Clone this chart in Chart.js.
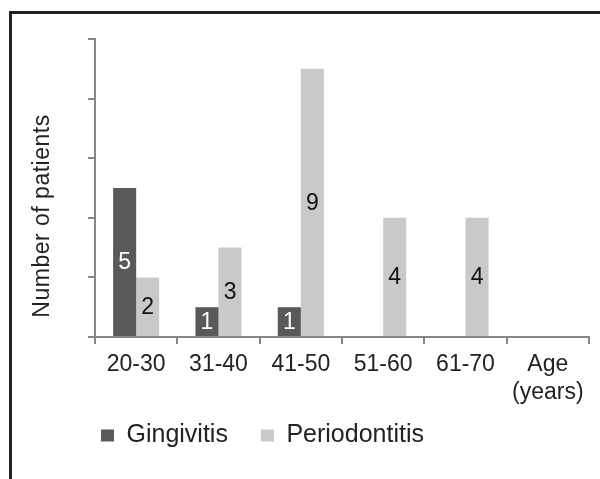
<!DOCTYPE html>
<html>
<head>
<meta charset="utf-8">
<script src="https://cdn.jsdelivr.net/npm/chart.js@4"></script>
<style>
    html, body { margin: 0; padding: 0; background: #fff; overflow: hidden; }
    #wrap { position: relative; width: 600px; height: 479px; }
    #frame { position: absolute; left: 9px; top: 11px; width: 700px; height: 700px;
             border-left: 3px solid #222; border-top: 3px solid #222; pointer-events: none; }
</style>
</head>
<body>
<div id="wrap">
    <canvas id="myChart" width="600" height="479"></canvas>
    <div id="frame"></div>
</div>
<script>
// data
const categories = ['20-30', '31-40', '41-50', '51-60', '61-70', ['Age', '(years)']]
const gingivitis = [5, 1, 1, 0, 0, null]
const periodontitis = [2, 3, 9, 4, 4, null]
const yTicks = [0, 2, 4, 6, 8, 10]
const yTitle = 'Number of patients'

const FONT = '"Liberation Sans", Arial, sans-serif'
const COLORS = {
    dark: '#595959',
    light: '#c9c9c9',
    axis: '#868686',
    text: '#222222'
}

// numbers in the middle of each bar
const barLabels = {
    id: 'barLabels',
    afterDatasetsDraw(chart) {
        const ctx = chart.ctx
        ctx.save()
        ctx.font = '23px ' + FONT
        ctx.textAlign = 'center'
        ctx.textBaseline = 'middle'
        chart.data.datasets.forEach((ds, i) => {
            const meta = chart.getDatasetMeta(i)
            meta.data.forEach((bar, j) => {
                const v = ds.data[j]
                if (!v) return
                ctx.fillStyle = i == 0 ? '#ffffff' : '#111111'
                ctx.fillText(v, bar.x, (bar.y + bar.base) / 2 + 1)
            })
        })
        ctx.restore()
    }
}

// y title sits a bit lower than the axis middle in the picture
const sideTitle = {
    id: 'sideTitle',
    afterDraw(chart) {
        const ctx = chart.ctx
        ctx.save()
        ctx.translate(43, 216)
        ctx.rotate(-Math.PI / 2)
        ctx.font = '23px ' + FONT
        ctx.letterSpacing = '0.5px'
        ctx.fillStyle = COLORS.text
        ctx.textAlign = 'center'
        ctx.textBaseline = 'middle'
        ctx.fillText(yTitle, 0, 0)
        ctx.restore()
    }
}

// pull the legend up closer to the axis labels
const legendShift = {
    id: 'legendShift',
    afterLayout(chart) {
        chart.legend.top -= 17
        chart.legend.bottom -= 17
    }
}

const data = {
    labels: categories,
    datasets: [
        {
            label: 'Gingivitis',
            data: gingivitis,
            backgroundColor: COLORS.dark
        },
        {
            label: 'Periodontitis',
            data: periodontitis,
            backgroundColor: COLORS.light
        }
    ]
}

const config = {
    type: 'bar',
    data: data,
    options: {
        responsive: false,
        animation: false,
        categoryPercentage: 0.56,
        barPercentage: 1,
        layout: {
            padding: { left: 68, right: 11, top: 39, bottom: 4 }
        },
        scales: {
            x: {
                afterFit(scale) { scale.height = 70 },
                grid: {
                    drawOnChartArea: false,
                    tickLength: 7,
                    color: COLORS.axis,
                    lineWidth: 2
                },
                border: { color: COLORS.axis, width: 2 },
                ticks: {
                    autoSkip: false,
                    maxRotation: 0,
                    padding: 7,
                    color: COLORS.text,
                    font: { family: FONT, size: 23, lineHeight: 1.2 }
                }
            },
            y: {
                afterFit(scale) { scale.width = 27 },
                min: yTicks[0],
                max: yTicks[yTicks.length - 1],
                grid: {
                    drawOnChartArea: false,
                    tickLength: 7,
                    color: COLORS.axis,
                    lineWidth: 2
                },
                border: { color: COLORS.axis, width: 2 },
                ticks: {
                    display: false,
                    stepSize: yTicks[1] - yTicks[0]
                }
            }
        },
        plugins: {
            tooltip: { enabled: false },
            legend: {
                position: 'bottom',
                align: 'start',
                labels: {
                    boxWidth: 13,
                    boxHeight: 12,
                    padding: 33,
                    color: COLORS.text,
                    font: { family: FONT, size: 25 }
                }
            }
        }
    },
    plugins: [barLabels, sideTitle, legendShift]
}

const myChart = new Chart(
    document.getElementById('myChart'),
    config
)
</script>
</body>
</html>
